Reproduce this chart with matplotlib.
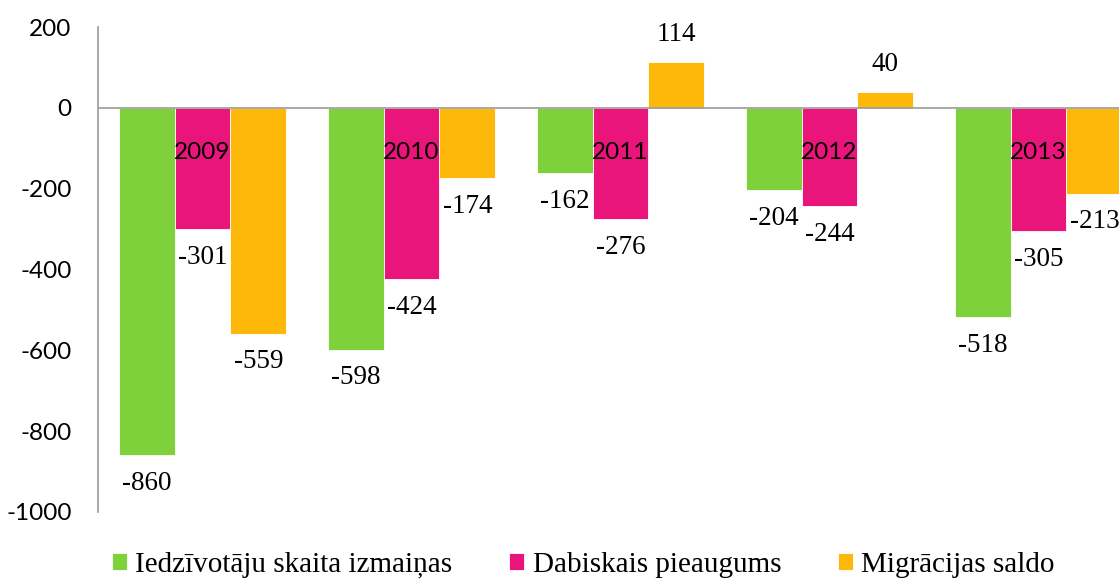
import matplotlib
matplotlib.use("Agg")
import matplotlib.pyplot as plt
from matplotlib.ticker import FuncFormatter
import numpy as np

years = ["2009", "2010", "2011", "2012", "2013"]
series_names = ["Iedzīvotāju skaita izmaiņas", "Dabiskais pieaugums", "Migrācijas saldo"]
pop_change = [-860, -598, -162, -204, -518]
natural_growth = [-301, -424, -276, -244, -305]
migration = [-559, -174, 114, 40, -213]

colors = ["#7FD13B", "#EA157A", "#FEB80A"]
SERIF = "Liberation Serif"
SANS = "Lato"


def _label_bars(ax, bars, values):
    for b, v in zip(bars, values):
        x = b.get_x() + b.get_width() / 2
        off = 27 if v >= 0 else -28
        ax.annotate(f"{v}", (x, v), xytext=(0, off), textcoords="offset pixels",
                    ha="center", va="center", fontsize=19.5, family=SERIF)


fig = plt.figure(figsize=(11.19, 5.81), dpi=100)
ax = fig.add_axes([0.0876, 0.1188, 0.9124, 0.8347])

x = np.arange(len(years))
w = 0.267
for i, (vals, name) in enumerate(zip([pop_change, natural_growth, migration], series_names)):
    bars = ax.bar(x + (i - 1) * w, vals, w, color=colors[i], label=name,
                  edgecolor="white", linewidth=0.6, zorder=2)
    _label_bars(ax, bars, vals)

ax.axhline(0, color="#9a9a9a", linewidth=1.2, zorder=3)

# year labels sit just under the zero line, over the middle bar
for xi, yr in zip(x, years):
    ax.annotate(yr, (xi, 0), xytext=(0, -45), textcoords="offset pixels",
                ha="center", va="center", fontsize=17.5, family=SANS, zorder=4)

ax.set_ylim(-1000, 200)
ax.set_yticks(range(-1000, 201, 200))
ax.yaxis.set_major_formatter(FuncFormatter(lambda v, p: f"{int(v)}"))
ax.set_xlim(-0.5, 4.385)
ax.set_xticks([])
ax.tick_params(axis="y", length=0, pad=19, labelsize=17.5)
for lbl in ax.get_yticklabels():
    lbl.set_family(SANS)

for spine in ["top", "right", "bottom"]:
    ax.spines[spine].set_visible(False)
ax.spines["left"].set_color("#9a9a9a")
ax.spines["left"].set_linewidth(1.2)

fig.legend(loc="center", bbox_to_anchor=(0.5215, 0.028), ncol=3, frameon=False,
           prop={"family": SERIF, "size": 21}, handlelength=0.5, handleheight=0.5,
           handletextpad=0.3, columnspacing=1.95, borderpad=0)

fig.savefig("out.png", dpi=100)
